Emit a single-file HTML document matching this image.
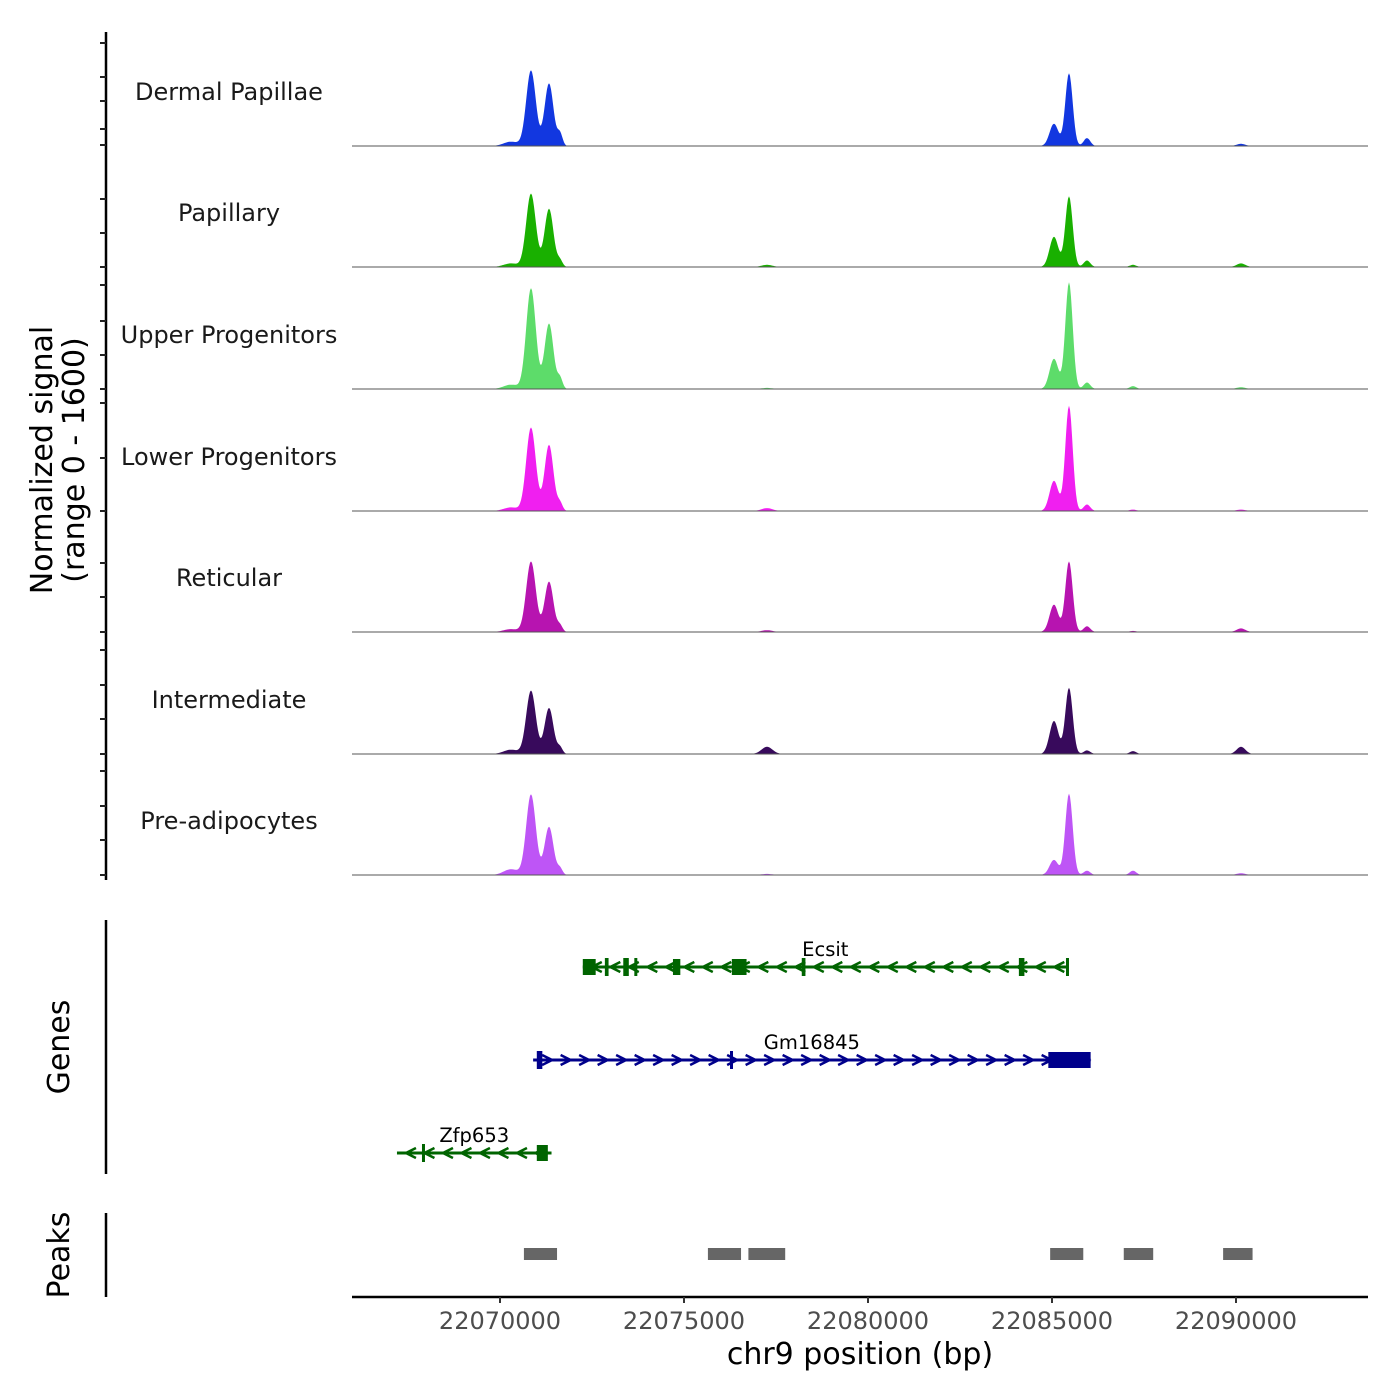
<!DOCTYPE html>
<html><head><meta charset="utf-8"><style>
body{margin:0;background:#fff}
svg{display:block;font-family:"DejaVu Sans","Liberation Sans",sans-serif}
</style></head><body>
<svg id="c" width="1400" height="1400" viewBox="0 0 1400 1400" xmlns="http://www.w3.org/2000/svg"></svg>
<script>
const cellTypes=["Dermal Papillae","Papillary","Upper Progenitors","Lower Progenitors","Reticular","Intermediate","Pre-adipocytes"];
const colors=["#1237e0","#19b000","#5ddc6a","#f01ff0","#b714b0","#380a5c","#be55f6"];
const peakPos=[22070842,22071332,22071630,22085054,22085462,22085950,22077255,22087200,22090135,22070300];
const peakHeights=[
[1050,870,170,310,1010,110,0,0,30,60],
[1020,810,90,420,980,90,30,30,50,50],
[1400,910,150,420,1480,90,15,40,25,60],
[1160,920,110,420,1460,90,40,20,20,50],
[980,700,90,380,980,80,25,15,50,40],
[880,640,90,460,920,50,100,40,100,60],
[1120,670,90,210,1130,60,15,60,25,80]];
const peakWidths=[130,120,70,120,100,90,150,90,120,200];
const xTicks=[22070000,22075000,22080000,22085000,22090000];
const regions=[[22070650,22071550],[22075650,22076550],[22076750,22077750],[22084950,22085850],[22086950,22087750],[22089650,22090450]];
const genes=[
 {name:"Ecsit",strand:-1,start:22072250,end:22085430,color:"#006400",row:0,exons:[[22072250,22072600],[22072850,22072950],[22073350,22073500],[22073650,22073720],[22074700,22074900],[22076300,22076700],[22078200,22078300],[22084100,22084250],[22085380,22085430]]},
 {name:"Gm16845",strand:1,start:22070900,end:22086050,color:"#00008b",row:1,exons:[[22071000,22071150],[22076250,22076320],[22084900,22086050]]},
 {name:"Zfp653",strand:-1,start:22067200,end:22071400,color:"#006400",row:2,exons:[[22071000,22071300],[22067880,22067920]]}];
const X0=22070000,PX0=500,PPB=736/20000;
const sx=v=>PX0+(v-X0)*PPB;
const svg=document.getElementById('c');
const NS="http://www.w3.org/2000/svg";
function mk(t,a,p){const e=document.createElementNS(NS,t);for(const k in a)e.setAttribute(k,a[k]);(p||svg).appendChild(e);return e;}
const baselines=[146,267,389,511,632,754,875];
const ys=v=>v*0.072;
cellTypes.forEach((ct,i)=>{
 const b=baselines[i];
 const g=mk('g',{});
 
 
 let d=`M352,${b}`;
 for(let px=352;px<=1368;px+=1){
  const bp=X0+(px-PX0)/PPB;let v=0;
  peakPos.forEach((p,k)=>{const z=(bp-p)/peakWidths[k];v+=peakHeights[i][k]*Math.exp(-z*z/2);});
  d+=`L${px},${(b-ys(v)).toFixed(1)}`;
 }
 d+=`L1368,${b}Z`;
 const a=mk('path',{d:d,fill:colors[i]},g);
 
 
 mk('line',{x1:352,x2:1368,y1:b,y2:b,stroke:'#555','stroke-width':1},g);
 const t=mk('text',{x:229,y:b-46,'text-anchor':'middle','font-size':24,fill:'#1a1a1a'},g);
 t.textContent=ct;
 
 
});
mk('line',{x1:106,x2:106,y1:32,y2:880,stroke:'#000','stroke-width':2.5});
const tks=[43,77,101,129,145,199,233,267,285,321,355,389,403,458,511,563,597,632,650,685,719,754,771,806,840,875];
tks.forEach(y=>mk('line',{x1:100,x2:106,y1:y,y2:y,stroke:'#222','stroke-width':2}));
let yt=mk('text',{transform:'translate(52,460) rotate(-90)','text-anchor':'middle','font-size':30});yt.textContent="Normalized signal";

let yt2=mk('text',{transform:'translate(84,460) rotate(-90)','text-anchor':'middle','font-size':30});yt2.textContent="(range 0 - 1600)";
mk('line',{x1:106,x2:106,y1:920,y2:1174,stroke:'#000','stroke-width':2.5});
let gl=mk('text',{transform:'translate(69,1047) rotate(-90)','text-anchor':'middle','font-size':30});gl.textContent="Genes";

mk('line',{x1:106,x2:106,y1:1213,y2:1297,stroke:'#000','stroke-width':2.5});
let pl=mk('text',{transform:'translate(69,1255) rotate(-90)','text-anchor':'middle','font-size':30});pl.textContent="Peaks";

const rowY=[967,1060,1153];
genes.forEach(gn=>{
 const y=rowY[gn.row],g=mk('g',{});
 
 
 const x1=sx(gn.start),x2=sx(gn.end);
 mk('line',{x1:x1,x2:x2,y1:y,y2:y,stroke:gn.color,'stroke-width':3},g);
 for(let x=x1+14;x<x2-6;x+=18.5){
  const dx=gn.strand*5;
  mk('polyline',{points:`${x-dx},${y-5} ${x+dx},${y} ${x-dx},${y+5}`,fill:'none',stroke:gn.color,'stroke-width':2.5},g);
 }
 gn.exons.forEach(e=>{const a=sx(e[0]),w=Math.max(sx(e[1])-a,3);const h=w>6?16:18;mk('rect',{x:a,y:y-h/2,width:w,height:h,fill:gn.color},g);});
 const t=mk('text',{x:(x1+x2)/2,y:y-11,'text-anchor':'middle','font-size':19.5,fill:'#000'},g);
 t.textContent=gn.name;
});
regions.forEach(r=>{const a=sx(r[0]);const e=mk('rect',{x:a,y:1248,width:sx(r[1])-a,height:12,fill:'#666'});
 });
mk('line',{x1:352,x2:1368,y1:1297,y2:1297,stroke:'#000','stroke-width':2.5});
xTicks.forEach(v=>{const x=sx(v);mk('line',{x1:x,x2:x,y1:1297,y2:1303,stroke:'#333','stroke-width':2});
 const t=mk('text',{x:x,y:1329,'text-anchor':'middle','font-size':24,fill:'#4d4d4d'});t.textContent=v;
 });
let xt=mk('text',{x:860,y:1364,'text-anchor':'middle','font-size':30});xt.textContent="chr9 position (bp)";

</script>
</body></html>
